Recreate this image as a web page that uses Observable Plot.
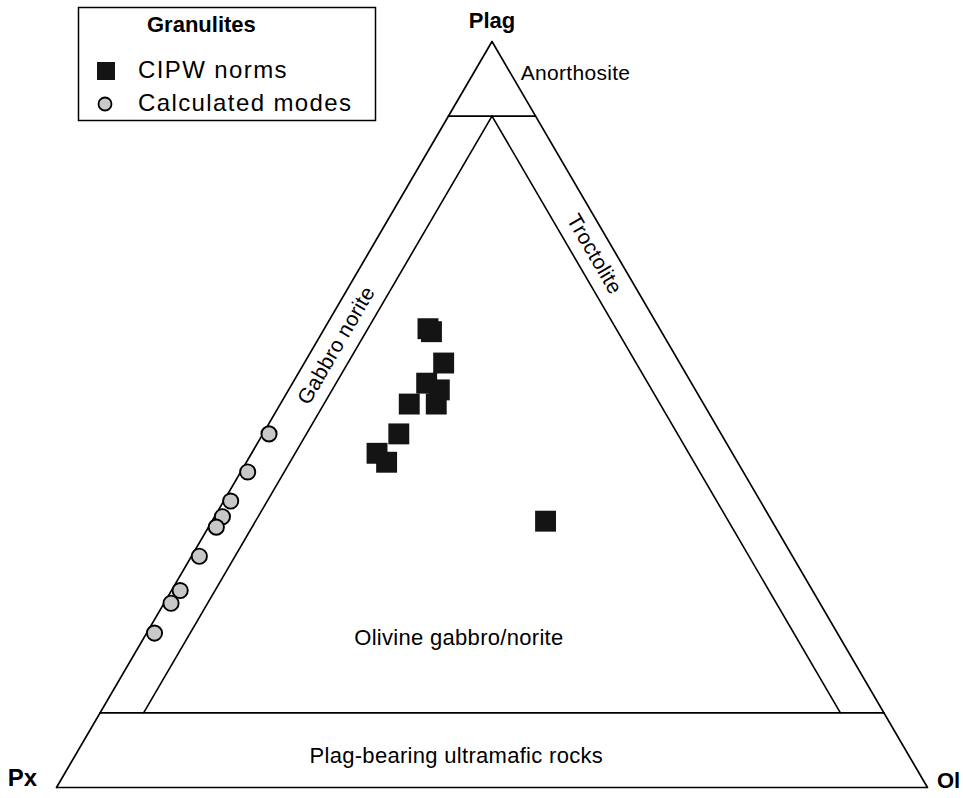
<!DOCTYPE html>
<html><head><meta charset="utf-8">
<script src="https://cdn.jsdelivr.net/npm/d3@7"></script>
<script src="https://cdn.jsdelivr.net/npm/@observablehq/plot@0.6"></script>
<style>
body{margin:0;background:#fff;}
#wrap{position:relative;width:963px;height:798px;}
text{font-family:"Liberation Sans",Arial,Helvetica,sans-serif;}
.field{letter-spacing:0.3px;}
</style></head><body><div id="wrap"></div>
<script>
// Ternary compositions in % : Px, Plag, Ol
// CIPW norms (granulites)
const cipwPx   = [26.6, 26.4, 27.1, 30.4, 29.4, 33.8, 30.7, 37.0, 40.8, 40.3, 26.0];
const cipwPlag = [61.5, 61.1, 56.9, 54.2, 53.3, 51.4, 51.4, 47.4, 44.8, 43.6, 35.7];
const cipwOl   = [11.9, 12.5, 16.0, 15.4, 17.3, 14.8, 17.9, 15.6, 14.4, 16.1, 38.3];
// Calculated modes (granulites)
const modePx   = [51.9, 56.9, 60.8, 62.8, 64.2, 68.1, 72.6, 74.5, 78.4];
const modePlag = [47.4, 42.3, 38.4, 36.3, 34.9, 31.0, 26.4, 24.7, 20.7];
const modeOl   = [0.7, 0.8, 0.8, 0.9, 0.9, 0.9, 1.0, 0.8, 0.9];

const vertexNames = ["Px", "Plag", "Ol"];
const vertexComp = [[100, 0, 0], [0, 100, 0], [0, 0, 100]];

// Field boundaries (IUGS gabbroic rocks): Plag 90 / Plag 10 / Ol 5 / Px 5
const boundaryNames = ["Plag 90", "Plag 10", "Ol 5", "Px 5"];
const boundaryFrom = [[10, 90, 0], [90, 10, 0], [5, 90, 5], [5, 90, 5]];
const boundaryTo   = [[0, 90, 10], [0, 10, 90], [85, 10, 5], [5, 10, 85]];

const fieldNames = ["Anorthosite", "Troctolite", "Gabbro norite", "Olivine gabbro/norite", "Plag-bearing ultramafic rocks"];
const fieldComp = [[0, 95, 5], [2.5, 71.5, 26], [38.25, 59.25, 2.5], [43.8, 20, 36.2], [52, 4.2, 43.8]];

const legendTitle = "Granulites";
const seriesNames = ["CIPW norms", "Calculated modes"];

// ternary -> cartesian
const tx = ([px, plag, ol]) => (ol + plag / 2) / 100;
const ty = ([px, plag, ol]) => plag / 100;

const triangle = vertexComp.concat([vertexComp[0]]).map((c, i) => ({i, x: tx(c), y: ty(c)}));
const boundaries = boundaryNames.flatMap((n, i) => [
  {n, x: tx(boundaryFrom[i]), y: ty(boundaryFrom[i])},
  {n, x: tx(boundaryTo[i]), y: ty(boundaryTo[i])}
]);
const cipw = cipwPx.map((p, i) => { const c = [p, cipwPlag[i], cipwOl[i]]; return {x: tx(c), y: ty(c)}; });
const modes = modePx.map((p, i) => { const c = [p, modePlag[i], modeOl[i]]; return {x: tx(c), y: ty(c)}; });
const vertices = vertexNames.map((n, i) => ({n, x: tx(vertexComp[i]), y: ty(vertexComp[i])}));
const fields = fieldNames.map((n, i) => ({n, x: tx(fieldComp[i]), y: ty(fieldComp[i])}));
const angle = 59.7;
const font = "Liberation Sans, Arial, Helvetica, sans-serif";

const chart = Plot.plot({
  width: 963, height: 798,
  margin: 0,
  x: {domain: [0, 1], range: [56, 927], axis: null},
  y: {domain: [0, 1], range: [787, 41], axis: null},
  style: {fontFamily: font, background: "#fff"},
  marks: [
    Plot.line(triangle, {x: "x", y: "y", stroke: "#000", strokeWidth: 1.7}),
    Plot.line(boundaries, {x: "x", y: "y", z: "n", stroke: "#000", strokeWidth: 1.6}),
    Plot.dot(modes, {x: "x", y: "y", r: 7.6, fill: "#c8c8c8", stroke: "#000", strokeWidth: 1.9}),
    Plot.dot(cipw, {x: "x", y: "y", symbol: "square", r: 11.8, fill: "#141414", stroke: "none"}),
    // vertex labels
    Plot.text([vertices[1]], {x: "x", y: "y", text: "n", dy: -21, fontSize: 22, fontWeight: "bold", fill: "#000"}),
    Plot.text([vertices[0]], {x: "x", y: "y", text: "n", dx: -34, dy: -9, fontSize: 24, fontWeight: "bold", fill: "#000"}),
    Plot.text([vertices[2]], {x: "x", y: "y", text: "n", dx: 21, dy: -7, fontSize: 22, fontWeight: "bold", fill: "#000"}),
    // field labels
    Plot.text([fields[0]], {x: "x", y: "y", text: "n", textAnchor: "start", dx: 7, dy: -6, fontSize: 21, fill: "#000", className: "field"}),
    Plot.text([fields[1]], {x: "x", y: "y", text: "n", rotate: angle, fontSize: 21, fill: "#000", className: "field"}),
    Plot.text([fields[2]], {x: "x", y: "y", text: "n", rotate: -angle, fontSize: 21, fill: "#000", className: "field"}),
    Plot.text(fields.slice(3), {x: "x", y: "y", text: "n", fontSize: 22, fill: "#000", className: "field"})
  ]
});
const wrap = document.getElementById("wrap");
wrap.appendChild(chart);

// Legend box overlaid top-left
const lg = d3.create("svg").attr("width", 400).attr("height", 130)
  .style("position", "absolute").style("left", "0px").style("top", "0px");
lg.append("rect").attr("x", 78.5).attr("y", 7.5).attr("width", 297).attr("height", 113)
  .attr("fill", "#fff").attr("stroke", "#000").attr("stroke-width", 1.5);
lg.append("text").attr("x", 147).attr("y", 32).attr("font-size", 22).attr("font-weight", "bold")
  .attr("font-family", font).text(legendTitle);
lg.append("rect").attr("x", 97).attr("y", 62).attr("width", 18).attr("height", 18).attr("fill", "#141414");
lg.append("text").attr("x", 138).attr("y", 78).attr("font-size", 24).attr("font-family", font)
  .style("letter-spacing", "1.4px").text(seriesNames[0]);
lg.append("circle").attr("cx", 105).attr("cy", 104).attr("r", 6.5).attr("fill", "#c8c8c8")
  .attr("stroke", "#000").attr("stroke-width", 1.8);
lg.append("text").attr("x", 138).attr("y", 111).attr("font-size", 24).attr("font-family", font)
  .style("letter-spacing", "1.4px").text(seriesNames[1]);
wrap.appendChild(lg.node());
</script>
</body></html>
